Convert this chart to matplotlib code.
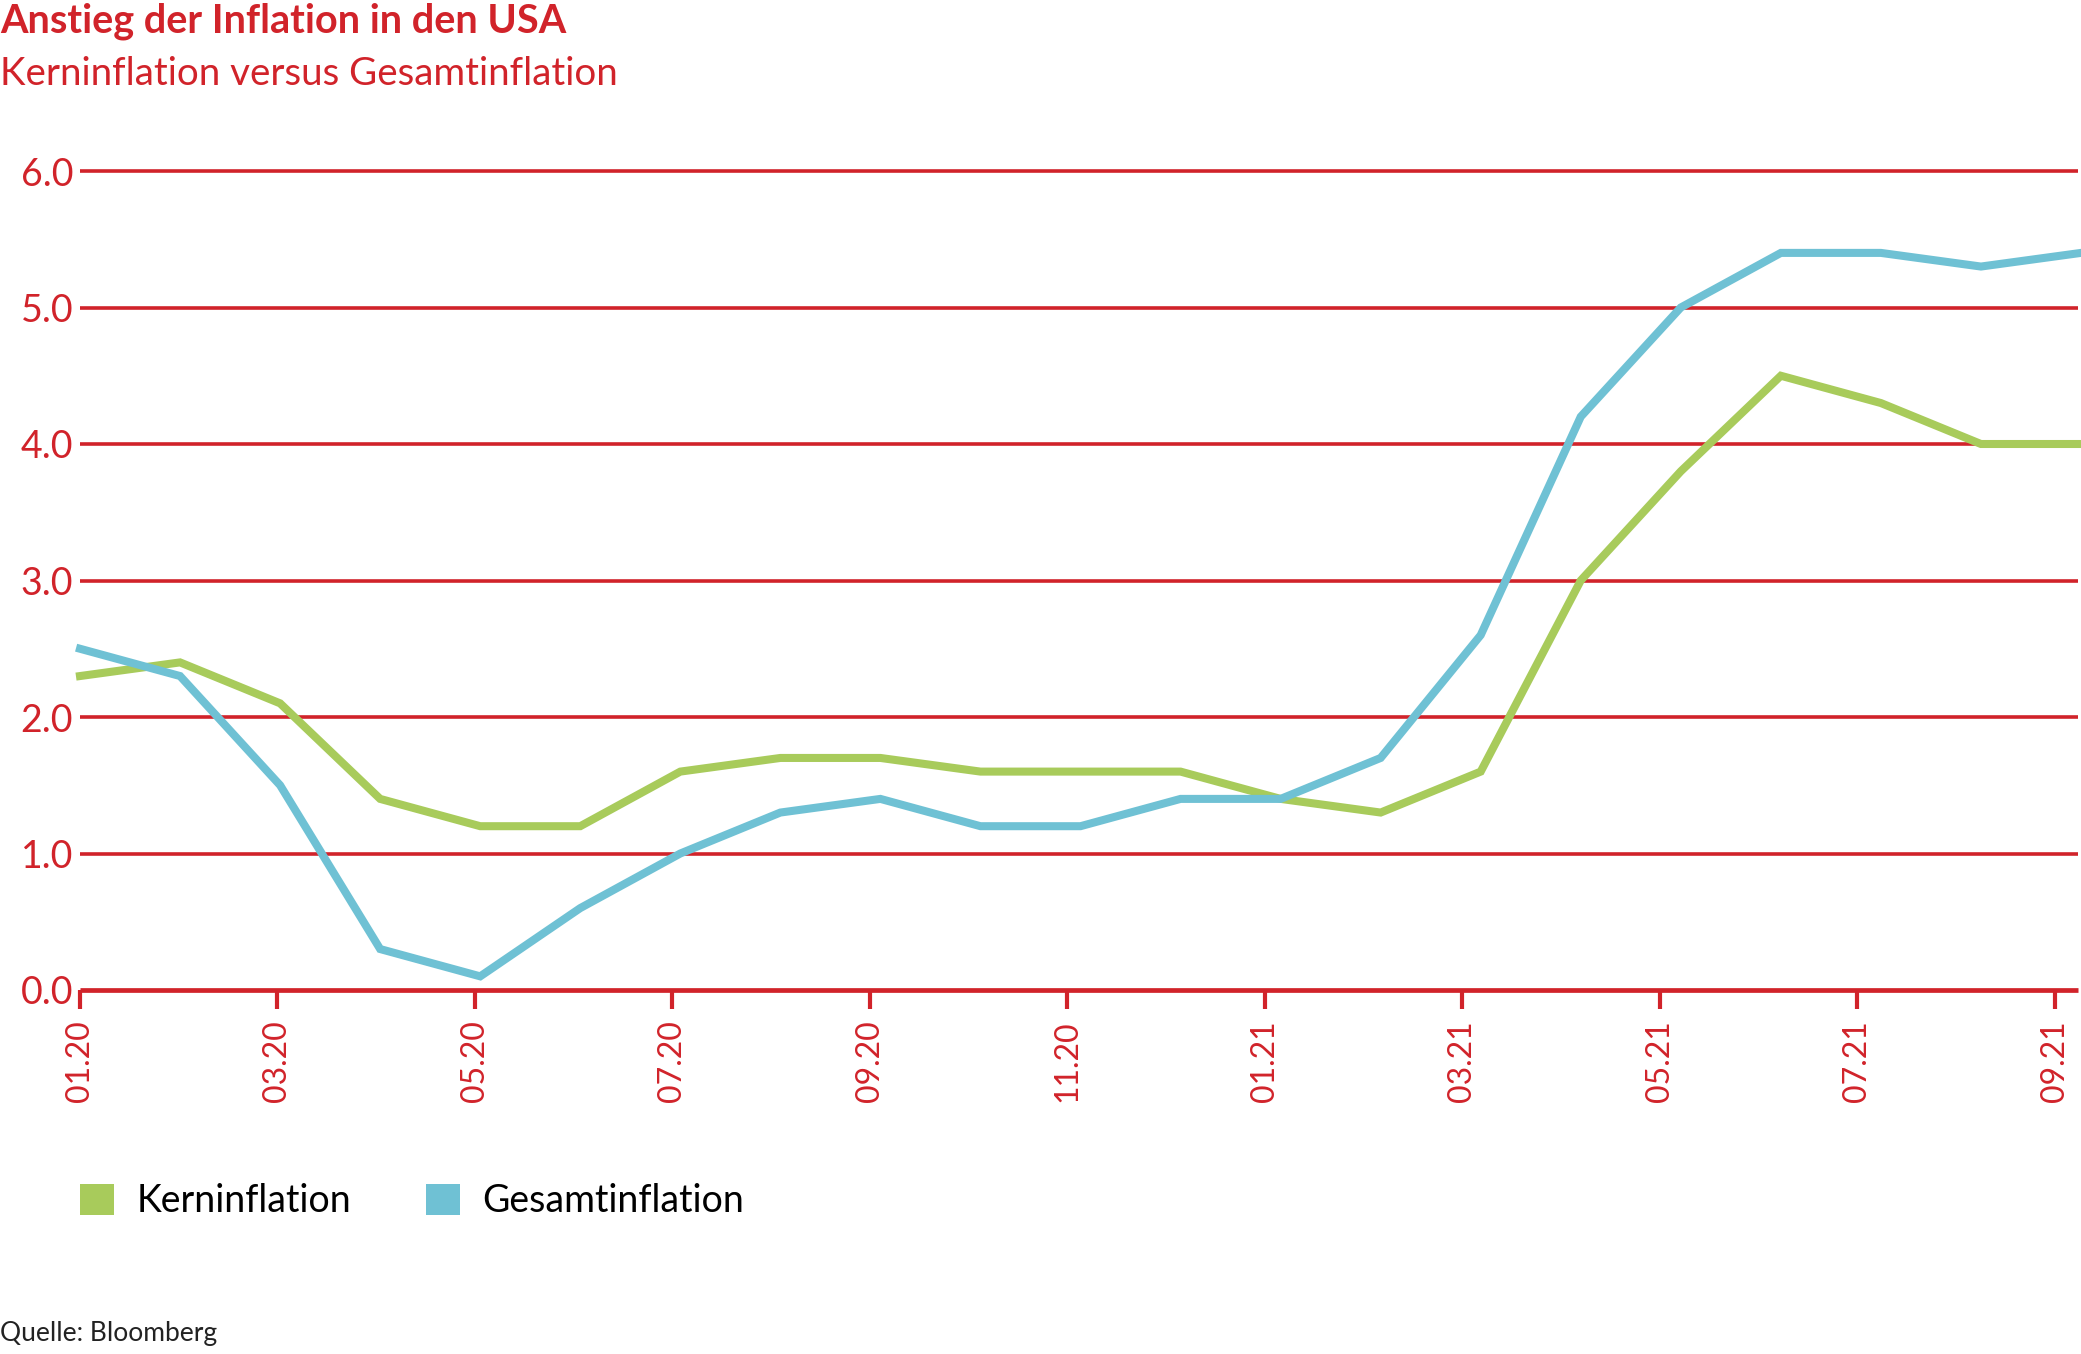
import matplotlib
matplotlib.use('Agg')
import matplotlib.pyplot as plt
from matplotlib.patches import Patch
import numpy as np

# Monatswerte 01.2020 - 09.2021 (in %)
monate = ['01.20', '02.20', '03.20', '04.20', '05.20', '06.20', '07.20', '08.20', '09.20',
          '10.20', '11.20', '12.20', '01.21', '02.21', '03.21', '04.21', '05.21', '06.21',
          '07.21', '08.21', '09.21']
kerninflation = [2.3, 2.4, 2.1, 1.4, 1.2, 1.2, 1.6, 1.7, 1.7, 1.6, 1.6, 1.6,
                 1.4, 1.3, 1.6, 3.0, 3.8, 4.5, 4.3, 4.0, 4.0]
gesamtinflation = [2.5, 2.3, 1.5, 0.3, 0.1, 0.6, 1.0, 1.3, 1.4, 1.2, 1.2, 1.4,
                   1.4, 1.7, 2.6, 4.2, 5.0, 5.4, 5.4, 5.3, 5.4]
tick_labels = monate[::2]
y_ticks = [0.0, 1.0, 2.0, 3.0, 4.0, 5.0, 6.0]

ROT = '#d1232a'
GRUEN = '#a8cb5b'
BLAU = '#6fc1d4'

plt.rcParams['font.family'] = ['Lato', 'DejaVu Sans']

fig = plt.figure(figsize=(20.81, 13.54), dpi=100)
ax = fig.add_axes([80 / 2081, 1 - 990 / 1354, 1 - 80 / 2081, (990 - 171) / 1354])

x = np.arange(len(monate))
ax.set_xlim(0, len(monate) - 1)
ax.set_ylim(0, 6)

# Gitterlinien
ax.hlines(y_ticks[1:], 0, 19.97, color=ROT, lw=2.6, zorder=1, clip_on=False)
ax.hlines(0, 0, 19.97, color=ROT, lw=3.4, zorder=1, clip_on=False)

ax.plot(x, kerninflation, color=GRUEN, lw=5.8, solid_joinstyle='miter', zorder=3, clip_on=False)
ax.plot(x, gesamtinflation, color=BLAU, lw=5.8, solid_joinstyle='miter', zorder=4, clip_on=False)

for s in ax.spines.values():
    s.set_visible(False)

ax.set_yticks(y_ticks)
ax.set_yticklabels([f'{v:.1f}' for v in y_ticks])
ax.tick_params(axis='y', length=0, pad=5, labelsize=27, labelcolor=ROT)

ax.set_xticks(np.arange(len(tick_labels)) * 2 * 0.987)
ax.set_xticklabels(tick_labels, rotation=90, va='top', ha='center')
ax.tick_params(axis='x', length=14, width=3, color=ROT, pad=8, labelsize=23, labelcolor=ROT)

fig.text(0.0, 1 - 33 / 1354, 'Anstieg der Inflation in den USA', fontsize=28.5,
         fontweight='bold', color=ROT, va='baseline', ha='left')
fig.text(0.0, 1 - 85 / 1354, 'Kerninflation versus Gesamtinflation', fontsize=27.7,
         color=ROT, va='baseline', ha='left')

handles = [Patch(facecolor=GRUEN, edgecolor='none', label='Kerninflation'),
           Patch(facecolor=BLAU, edgecolor='none', label='Gesamtinflation')]
fig.legend(handles=handles, loc='center left', bbox_to_anchor=(80 / 2081, 1 - 1201 / 1354),
           ncol=2, frameon=False, fontsize=27, handlelength=0.9, handleheight=0.9,
           handletextpad=0.6, columnspacing=2.0, borderpad=0, borderaxespad=0)

fig.text(0.0, 1 - 1334 / 1354, 'Quelle: Bloomberg', fontsize=19, color='#222222',
         va='center', ha='left')

fig.savefig('out.png', dpi=100)
